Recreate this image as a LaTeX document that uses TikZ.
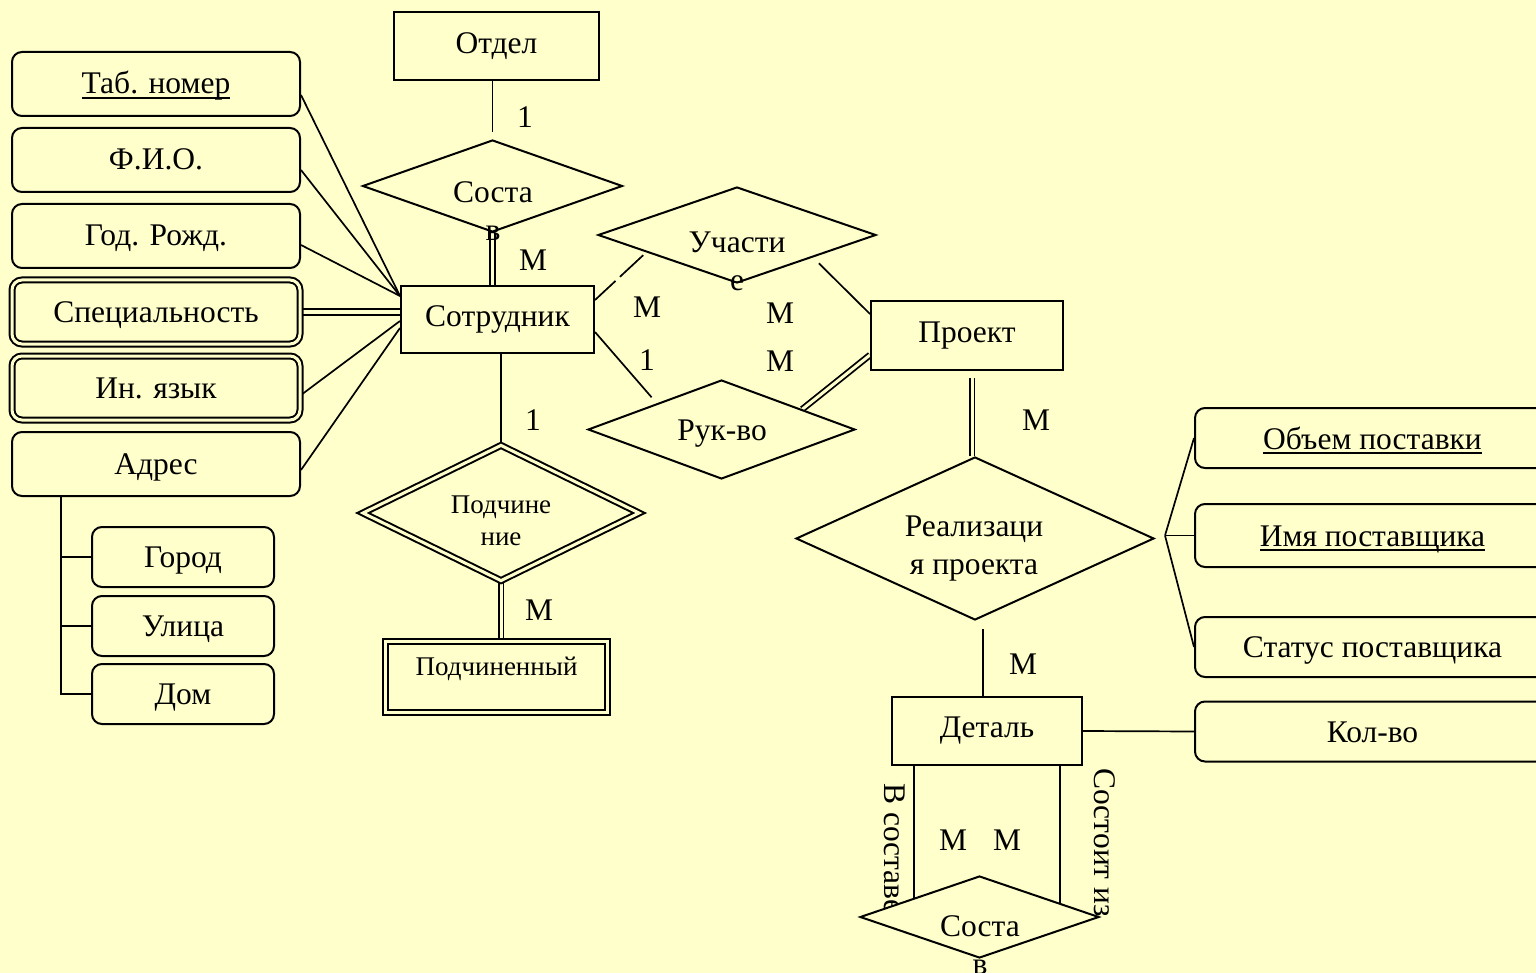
\documentclass[tikz,border=0pt]{standalone}
\usepackage{fontspec}
\setmainfont{Liberation Serif}
\usetikzlibrary{shapes.geometric,calc}
\definecolor{paper}{HTML}{FFFFCC}
\newcommand\ftbig{\fontsize{15.75}{19}\selectfont}
\newcommand\ftsmall{\fontsize{13.5}{16}\selectfont}
% key attribute: text with a firm underline
\newcommand\keyattr[1]{\leavevmode\setbox0\hbox{#1}\rlap{\rule[-2.4pt]{\wd0}{0.95pt}}\box0}
\pgfdeclarelayer{paperlayer}
\pgfdeclarelayer{links}
\pgfsetlayers{paperlayer,links,main}

\begin{document}
\begin{tikzpicture}[x=0.5pt,y=-0.5pt,
  every node/.style={font=\ftbig, inner sep=0pt},
  attr/.style={draw, rounded corners=5pt, line width=1pt, fill=paper,
    minimum width=144pt, minimum height=32pt, text height=11pt, text depth=1pt},
  subattr/.style={attr, minimum width=91pt, minimum height=30pt, text height=11.5pt},
  rattr/.style={attr, minimum width=177.5pt, minimum height=30pt, text height=12pt},
  ent/.style={draw, line width=1pt, fill=paper},
  rel/.style={draw, diamond, line width=1pt, fill=paper},
  twoline/.style={double=paper, double distance=1.5pt, line width=1pt},
  conn/.style={line width=0.85pt},
  dconn/.style={double=paper, double distance=1.5pt, line width=0.9pt},
  vtext/.style={rotate=-90, anchor=west},
  lines/.style={align=center}
]
\path[use as bounding box] (0,0) rectangle (1536,973);
\begin{pgfonlayer}{paperlayer}
  \fill[paper] (0,0) rectangle (1536,973);
\end{pgfonlayer}
\clip (0,0) rectangle (1536,973);

% --- attributes of the employee ---
\node[attr] (tab)   at (156,84)  {\keyattr{Таб. номер}};
\node[attr] (fio)   at (156,160) {Ф.И.О.};
\node[attr] (god)   at (156,236) {Год. Рожд.};
\node[attr, twoline] (spec)  at (156,312) {Специальность};
\node[attr, twoline] (inyaz) at (156,388) {Ин. язык};
\node[attr] (adres) at (156,464) {Адрес};
\node[subattr] (gorod) at (183,557) {Город};
\node[subattr] (ulica) at (183,626) {Улица};
\node[subattr] (dom)   at (183,694) {Дом};

% --- entities ---
\node[ent, minimum width=102.5pt, minimum height=34pt] (otdel)  at (496.5,46)  {Отдел};
\node[ent, minimum width=96.5pt,  minimum height=33.5pt] (sotr) at (497.5,319.5) {Сотрудник};
\node[ent, minimum width=96pt,    minimum height=34.5pt] (proekt) at (967,335.5) {\raisebox{1.5pt}{Проект}};
\node[ent, minimum width=95pt,    minimum height=34pt] (detal)  at (987,731)  {Деталь};
\node[ent, twoline, minimum width=111pt, minimum height=35.5pt] (podch) at (496.5,677) {};
\node[font=\ftsmall] (podchT) at (496.5,669) {Подчиненный};

% --- relationships ---
\node[rel, minimum width=130pt, minimum height=46pt] (sostav1) at (492.5,186) {};
\node[rel, minimum width=139pt, minimum height=48pt] (uch) at (737,235) {};
\node[rel, minimum width=133.5pt, minimum height=49.5pt] (ruk) at (721.5,429.5) {};
\node[rel, twoline, minimum width=138.5pt, minimum height=68pt] (podchin) at (501,513) {};
\node[rel, minimum width=179pt, minimum height=81.5pt] (realiz) at (975,538.5) {};

\node[lines] (sostav1T) at (493,211) {Соста\\в};
\node[lines] (uchT) at (737,261) {Участи\\е};
\node[lines] (rukT) at (722,434) {Рук-во};
\node[lines, font=\ftsmall] (podchinT) at (501,521) {Подчине\\ние};
\node[lines] (realizT) at (974,548.5) {Реализаци\\я проекта};

% --- supplier attributes ---
\node[rattr] (obj)  at (1372.5,438)   {\keyattr{Объем поставки}};
\node[rattr, minimum height=31.5pt] (imya) at (1372.5,535.5) {\keyattr{Имя поставщика}};
\node[rattr, text height=11pt] (stat) at (1372.5,647)   {Статус поставщика};
\node[rattr] (kol)  at (1372.5,731.5) {Кол-во};

% --- cardinalities ---
\node (k1) at (525,117) {1};
\node (k2) at (533,260) {М};
\node (k3) at (647,307) {М};
\node (k4) at (780,313) {М};
\node (k5) at (647,360) {1};
\node (k6) at (780,361) {М};
\node (k7) at (1036,420) {М};
\node (k8) at (533,420) {1};
\node (k9) at (539,610) {М};
\node (k10) at (1023,664) {М};
\node (k11) at (953,840) {М};
\node (k12) at (1007,840) {М};

% --- connectors ---
\begin{pgfonlayer}{links}
  % employee attributes
  \draw[conn] ([yshift=-5.5pt]tab.east)  -- ([yshift=11.75pt]sotr.west);
  \draw[conn] ([yshift=-5pt]fio.east)    -- ([yshift=11.75pt]sotr.west);
  \draw[conn] ([yshift=-4.5pt]god.east)  -- ([yshift=11.75pt]sotr.west);
  \draw[double=paper, double distance=1.8pt, line width=1pt] (spec.east) -- (spec.east -| sotr.west);
  \draw[conn] ([yshift=-3.5pt]inyaz.east) -- ([yshift=-0.75pt]sotr.west);
  \draw[conn] ([yshift=-3pt]adres.east)   -- ([yshift=-4.25pt]sotr.west);
  % address parts
  \coordinate (trunk) at ($(adres.south west)+(50,0)$);
  \draw[conn] (trunk) |- (dom.west);
  \draw[conn] (trunk |- gorod.west) -- (gorod.west);
  \draw[conn] (trunk |- ulica.west) -- (ulica.west);
  % department -- employee
  \draw[conn, shorten >=3.5pt] (sostav1.north |- otdel.south) -- (sostav1.north);
  \draw[dconn] (sostav1.south) -- (sostav1.south |- sotr.north);
  % participation and management
  \draw[conn, dash pattern=on 14pt off 3pt on 40pt off 1pt]
    ([yshift=9.75pt]sotr.east) -- ($(uch.west)!0.33!(uch.south)+(0,4)$);
  \draw[conn] ($(uch.south)!0.585!(uch.east)+(0,8)$) -- ([yshift=-7pt]proekt.north west);
  \draw[conn] ([yshift=-6.25pt]sotr.east) -- ($(ruk.west)!0.48!(ruk.north)+(0,-8)$);
  \draw[dconn] ($(ruk.north)!0.6!(ruk.east)$) -- ([yshift=-9.75pt]proekt.west);
  % subordination
  \draw[conn] (podchin.north |- sotr.south) -- (podchin.north);
  \draw[dconn] (podchin.south) -- (podchin.south |- podch.north);
  % project realisation
  \coordinate (rtop) at ($(realiz.north)+(-3,0)$);
  \draw[dconn, shorten <=3.5pt] (rtop |- proekt.south) -- (rtop);
  \coordinate (dtop) at ($(detal.north)+(-4,0)$);
  \draw[conn, shorten >=4pt] (dtop) -- (dtop |- realiz.south);
  \coordinate (fork) at ($(realiz.east)+(10,-3)$);
  \draw[conn] (fork) -- (obj.west);
  \draw[conn] (fork) -- (imya.west);
  \draw[conn] (fork) -- (stat.west);
  \draw[conn] (detal.east) -- (kol.west);
  % part composition
  \coordinate (dl) at ($(detal.south west)+(23,0)$);
  \coordinate (dr) at ($(detal.south east)+(-23,0)$);
  \draw[conn] (dl) -- (dl |- 0,915);
  \draw[conn] (dr) -- (dr |- 0,915);
  \node[vtext] (vsost) at (895,783) {В составе};
\end{pgfonlayer}

\node[rel, minimum width=119.5pt, minimum height=41pt] (sostav2) at (979.5,917) {};
\node[lines] (sostav2T) at (980,945) {Соста\\в};
\node[vtext] (vsostoit) at (1105,768) {Состоит из};

\end{tikzpicture}
\end{document}
